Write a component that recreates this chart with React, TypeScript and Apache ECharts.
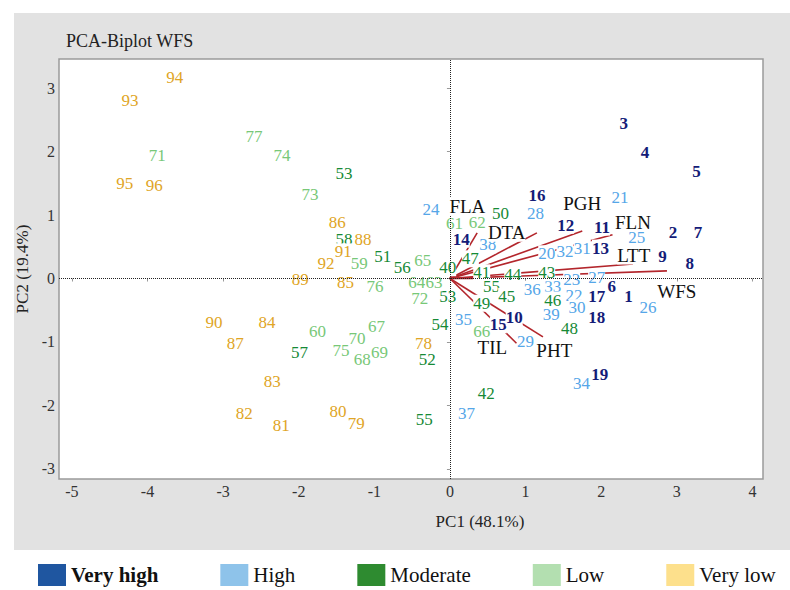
import React, { useEffect, useRef } from 'react';
import * as echarts from 'echarts';

const FONT = "'Liberation Serif', 'Times New Roman', serif";

const CATEGORIES = ['Very high', 'High', 'Moderate', 'Low', 'Very low'];
const TEXT_COLORS = ['#141c78', '#55a6e8', '#168a36', '#78c878', '#e0a526'];
const LEGEND_COLORS = ['#1f56a0', '#8ec3ea', '#2e8b30', '#b3dfb0', '#fde08c'];

// Very high
const VH_IDS = ['3', '4', '5', '16', '12', '11', '14', '13', '2', '7', '9', '8', '6', '1', '17', '18', '15', '10', '19'];
const VH_PC1 = [2.30, 2.58, 3.26, 1.15, 1.53, 2.01, 0.15, 1.99, 2.95, 3.28, 2.81, 3.17, 2.14, 2.36, 1.94, 1.94, 0.64, 0.85, 1.98];
const VH_PC2 = [2.45, 1.99, 1.68, 1.31, 0.84, 0.81, 0.62, 0.48, 0.72, 0.73, 0.34, 0.24, -0.12, -0.29, -0.29, -0.61, -0.73, -0.62, -1.52];

// High
const H_IDS = ['24', '28', '21', '38', '20', '32', '31', '25', '23', '27', '36', '33', '22', '39', '30', '35', '29', '26', '34', '37'];
const H_PC1 = [-0.25, 1.13, 2.25, 0.50, 1.28, 1.52, 1.75, 2.47, 1.61, 1.94, 1.09, 1.36, 1.64, 1.34, 1.68, 0.18, 1.00, 2.62, 1.74, 0.22];
const H_PC2 = [1.08, 1.03, 1.28, 0.53, 0.39, 0.42, 0.48, 0.65, -0.02, 0.01, -0.17, -0.13, -0.26, -0.56, -0.46, -0.64, -1.00, -0.46, -1.65, -2.12];

// Moderate
const M_IDS = ['53', '58', '51', '56', '40', '53', '54', '52', '55', '57', '50', '47', '41', '44', '43', '55', '45', '49', '46', '48', '42'];
const M_PC1 = [-1.40, -1.40, -0.89, -0.63, -0.03, -0.03, -0.13, -0.30, -0.34, -1.99, 0.67, 0.27, 0.42, 0.83, 1.28, 0.55, 0.75, 0.42, 1.36, 1.58, 0.48];
const M_PC2 = [1.66, 0.62, 0.34, 0.17, 0.17, -0.29, -0.73, -1.28, -2.23, -1.16, 1.03, 0.31, 0.09, 0.06, 0.09, -0.13, -0.28, -0.39, -0.34, -0.78, -1.82];

// Low
const L_IDS = ['71', '77', '74', '73', '59', '76', '65', '64', '63', '72', '61', '62', '60', '67', '70', '75', '68', '69', '66'];
const L_PC1 = [-3.87, -2.59, -2.22, -1.85, -1.20, -0.99, -0.36, -0.44, -0.21, -0.40, 0.06, 0.36, -1.75, -0.97, -1.23, -1.44, -1.16, -0.93, 0.42];
const L_PC2 = [1.94, 2.24, 1.94, 1.33, 0.23, -0.13, 0.29, -0.06, -0.07, -0.31, 0.87, 0.89, -0.83, -0.76, -0.95, -1.14, -1.28, -1.16, -0.84];

// Very low
const VL_IDS = ['94', '93', '95', '96', '86', '88', '91', '92', '89', '85', '90', '87', '84', '83', '82', '81', '80', '79', '78'];
const VL_PC1 = [-3.64, -4.23, -4.30, -3.91, -1.49, -1.15, -1.41, -1.64, -1.98, -1.38, -3.12, -2.84, -2.42, -2.35, -2.72, -2.23, -1.48, -1.24, -0.35];
const VL_PC2 = [3.17, 2.80, 1.50, 1.47, 0.89, 0.61, 0.42, 0.24, -0.01, -0.06, -0.70, -1.03, -0.70, -1.63, -2.12, -2.31, -2.10, -2.28, -1.02];

// Variable vectors (loadings) and their label positions
const VAR_NAMES = ['FLA', 'DTA', 'PGH', 'FLN', 'LTT', 'WFS', 'TIL', 'PHT', ''];
const VAR_PC1 = [0.36, 1.15, 1.75, 2.15, 2.42, 2.87, 0.88, 1.23, 0.31];
const VAR_PC2 = [0.72, 0.72, 0.75, 0.69, 0.23, 0.12, -1.02, -0.92, 0.0];
const VAR_LABEL_PC1 = [0.23, 0.75, 1.75, 2.42, 2.43, 3.00, 0.56, 1.38];
const VAR_LABEL_PC2 = [1.14, 0.73, 1.19, 0.89, 0.37, -0.21, -1.09, -1.14];

const GROUP_IDS = [VH_IDS, H_IDS, M_IDS, L_IDS, VL_IDS];
const GROUP_PC1 = [VH_PC1, H_PC1, M_PC1, L_PC1, VL_PC1];
const GROUP_PC2 = [VH_PC2, H_PC2, M_PC2, L_PC2, VL_PC2];

const X_MIN = -5.17;
const X_MAX = 4.14;
const Y_MIN = -3.16;
const Y_MAX = 3.46;

const TITLE = 'PCA-Biplot WFS';
const X_NAME = 'PC1 (48.1%)';
const Y_NAME = 'PC2 (19.4%)';

export default function App() {
  const ref = useRef<HTMLDivElement>(null);

  useEffect(() => {
    document.body.style.margin = '0';
    if (!ref.current) return;
    const chart = echarts.init(ref.current, undefined, { renderer: 'svg' });

    const intLabel = (v: number) => (Math.abs(v - Math.round(v)) < 1e-6 ? String(Math.round(v)) : '');

    const arrowSeries: any[] = VAR_PC1.map((x, i) => ({
      type: 'line',
      name: 'var' + i,
      data: [[0, 0], [x, VAR_PC2[i]]],
      showSymbol: false,
      symbol: 'none',
      silent: true,
      z: 2,
      lineStyle: { color: '#b3262c', width: 1.6 },
      ...(i === 0
        ? {
            markLine: {
              silent: true,
              symbol: 'none',
              label: { show: false },
              lineStyle: { type: [1, 1], color: '#222', width: 1 },
              data: [{ xAxis: 0 }, { yAxis: 0 }],
            },
          }
        : {}),
    }));

    const groupSeries: any[] = CATEGORIES.map((cat, g) => ({
      type: 'scatter',
      name: cat,
      z: 4,
      symbol: 'circle',
      symbolSize: 1,
      silent: true,
      itemStyle: { color: 'rgba(0,0,0,0)', opacity: 1 },
      data: GROUP_IDS[g].map((id, k) => [GROUP_PC1[g][k], GROUP_PC2[g][k], id]),
      label: {
        show: true,
        position: 'inside',
        formatter: (p: any) => p.value[2],
        color: TEXT_COLORS[g],
        opacity: 1,
        fontFamily: FONT,
        fontSize: 17,
        fontWeight: g === 0 ? 'bold' : 'normal',
        backgroundColor: '#fff',
        padding: [0, 0],
      },
      emphasis: { disabled: true },
    }));

    const varLabelSeries = {
      type: 'scatter',
      name: 'variables',
      z: 5,
      symbol: 'circle',
      symbolSize: 1,
      silent: true,
      itemStyle: { color: 'rgba(0,0,0,0)', opacity: 1 },
      data: VAR_LABEL_PC1.map((x, i) => [x, VAR_LABEL_PC2[i], VAR_NAMES[i]]),
      label: {
        show: true,
        position: 'inside',
        formatter: (p: any) => p.value[2],
        color: '#111',
        opacity: 1,
        fontFamily: FONT,
        fontSize: 19,
        backgroundColor: '#fff',
      },
      emphasis: { disabled: true },
    };

    chart.setOption({
      animation: false,
      backgroundColor: '#fff',
      textStyle: { fontFamily: FONT },
      title: {
        text: TITLE,
        left: 61,
        top: 27,
        textStyle: { fontFamily: FONT, fontSize: 18, fontWeight: 'normal', color: '#222' },
      },
      graphic: [
        {
          type: 'rect',
          z: -10,
          silent: true,
          shape: { x: 14, y: 13, width: 776, height: 537 },
          style: { fill: '#e2e2e2' },
        },
        {
          type: 'text',
          silent: true,
          x: 480,
          y: 521,
          style: {
            text: X_NAME,
            fill: '#222',
            fontFamily: FONT,
            fontSize: 17,
            align: 'center',
            verticalAlign: 'middle',
          },
        },
      ],
      grid: {
        left: 59,
        top: 59,
        width: 704,
        height: 420,
        show: true,
        backgroundColor: '#fff',
        borderColor: '#9a9a9a',
        borderWidth: 1.5,
      },
      legend: {
        left: 33,
        top: 559,
        icon: 'rect',
        itemWidth: 28,
        itemHeight: 22,
        itemGap: 62,
        selectedMode: false,
        data: CATEGORIES.map((c, i) => ({ name: c, itemStyle: { color: LEGEND_COLORS[i], opacity: 1 } })),
        formatter: (name: string) => (name === 'Very high' ? '{b|' + name + '}' : '{n|' + name + '}'),
        textStyle: {
          fontFamily: FONT,
          fontSize: 21,
          color: '#111',
          rich: {
            b: { fontFamily: FONT, fontSize: 21, fontWeight: 'bold', color: '#111' },
            n: { fontFamily: FONT, fontSize: 21, fontWeight: 'normal', color: '#111' },
          },
        },
      },
      xAxis: {
        type: 'value',
        min: X_MIN,
        max: X_MAX,
        minInterval: 1,
        maxInterval: 1,
        splitNumber: 10,
        axisLine: { show: false },
        axisTick: { show: true, length: 3, lineStyle: { color: '#999' } },
        splitLine: { show: false },
        axisLabel: {
          formatter: intLabel,
          color: '#333',
          fontFamily: FONT,
          fontSize: 16,
          margin: 4,
          showMinLabel: false,
          showMaxLabel: false,
        },
      },
      yAxis: {
        type: 'value',
        min: Y_MIN,
        max: Y_MAX,
        minInterval: 1,
        maxInterval: 1,
        splitNumber: 7,
        name: Y_NAME,
        nameLocation: 'middle',
        nameGap: 15,
        nameTextStyle: { fontFamily: FONT, fontSize: 17, color: '#222' },
        axisLine: { show: false },
        axisTick: { show: true, length: 3, lineStyle: { color: '#999' } },
        splitLine: { show: false },
        axisLabel: {
          formatter: intLabel,
          color: '#333',
          fontFamily: FONT,
          fontSize: 16,
          margin: 4,
          showMinLabel: false,
          showMaxLabel: false,
        },
      },
      series: [...arrowSeries, ...groupSeries, varLabelSeries],
    });

    return () => chart.dispose();
  }, []);

  return <div ref={ref} style={{ width: 790, height: 590 }} />;
}
